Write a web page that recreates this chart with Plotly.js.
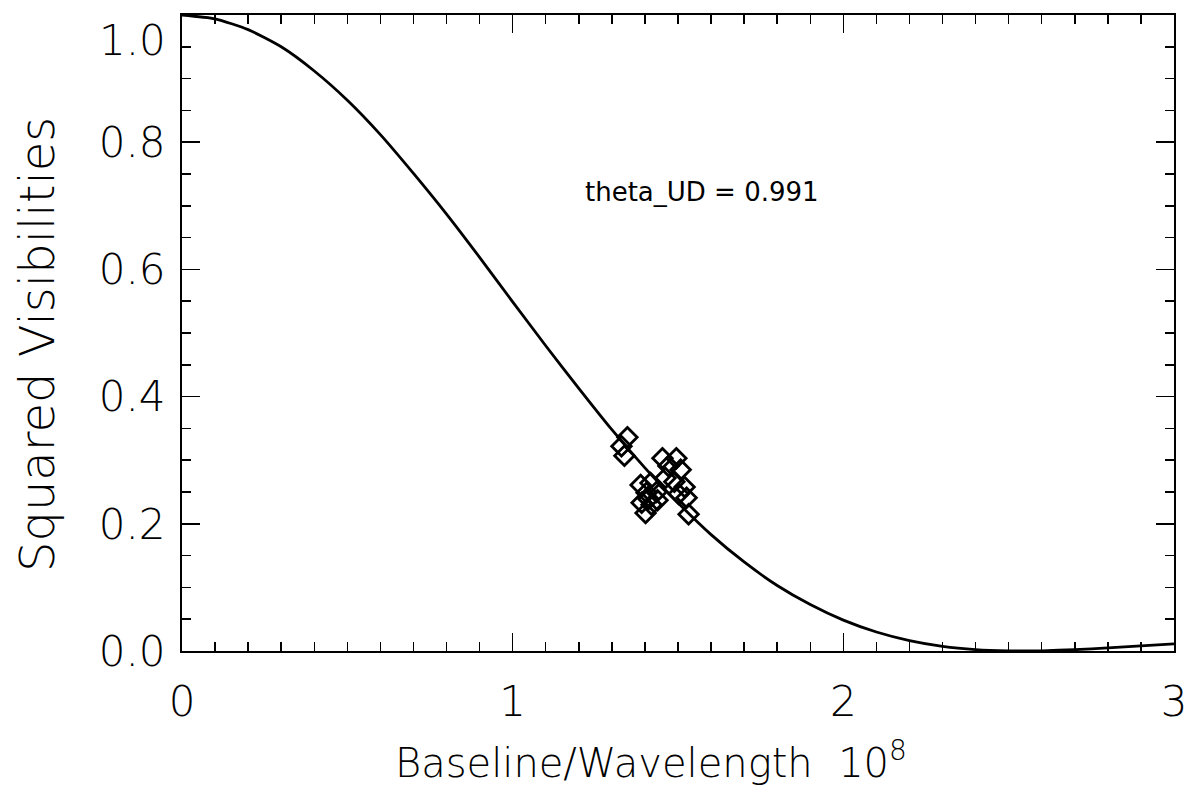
<!DOCTYPE html>
<html>
<head>
<meta charset="utf-8">
<script src="https://cdn.plot.ly/plotly-3.0.1.min.js"></script>
<style>
html, body { margin: 0; padding: 0; background: #fff; }
#chart { width: 1188px; height: 792px; }
</style>
</head>
<body>
<div id="chart"></div>
<script>
// Model curve (uniform disk fit)
const curveX = [0.0, 0.1, 0.2, 0.3, 0.4, 0.5, 0.6, 0.7, 0.8, 0.9,
                1.0, 1.1, 1.2, 1.3, 1.4, 1.5, 1.6, 1.7, 1.8, 1.9,
                2.0, 2.1, 2.2, 2.3, 2.4, 2.5, 2.55, 2.6, 2.7, 2.8, 2.9, 3.0];
const curveY = [1.000, 0.994, 0.977, 0.950, 0.912, 0.866, 0.812, 0.751, 0.687, 0.619,
                0.549, 0.480, 0.413, 0.348, 0.288, 0.233, 0.183, 0.140, 0.103, 0.073,
                0.0485, 0.0299, 0.0164, 0.0074, 0.0023, 0.0002, 0.0000, 0.0003, 0.0021, 0.0049, 0.0080, 0.0111];

// Measured squared visibilities
const obsX = [1.347, 1.329, 1.338,
              1.453, 1.495, 1.471, 1.508, 1.462, 1.489, 1.520, 1.502, 1.526, 1.532,
              1.387, 1.417, 1.405, 1.435, 1.390, 1.420, 1.402, 1.438, 1.411];
const obsY = [0.336, 0.322, 0.307,
              0.303, 0.303, 0.291, 0.285, 0.272, 0.266, 0.258, 0.247, 0.241, 0.215,
              0.261, 0.264, 0.249, 0.250, 0.233, 0.230, 0.217, 0.237, 0.239];

const fitLabel = "theta_UD = 0.991";
const xTitle = "Baseline/Wavelength  10<sup>8</sup>";
const yTitle = "Squared Visibilities";
const xTickVals = [0, 1, 2, 3];
const xTickText = ["0", "1", "2", "3"];
const yTickVals = [0.0, 0.2, 0.4, 0.6, 0.8];
const yTickText = ["0.0", "0.2", "0.4", "0.6", "0.8"];
const yTopLabel = "1.0";

const FONT = "'DejaVu Sans', 'Liberation Sans', sans-serif";
const THIN = 200;

const traces = [
  {
    x: curveX, y: curveY, type: 'scatter', mode: 'lines',
    line: {color: '#000', width: 2.8, shape: 'spline', smoothing: 0.6},
    hoverinfo: 'skip', showlegend: false
  },
  {
    x: obsX, y: obsY, type: 'scatter', mode: 'markers',
    marker: {symbol: 'diamond-open', size: 15, color: '#000', line: {color: '#000', width: 2.8}},
    showlegend: false
  }
];

const axisCommon = {
  showgrid: false, zeroline: false,
  showline: true, linecolor: '#000', linewidth: 2,
  mirror: 'allticks', ticks: 'inside', tickcolor: '#000', tickwidth: 1.5,
  ticklen: 18,
  tickfont: {family: FONT, size: 42, color: '#000', weight: THIN}
};

const layout = {
  width: 1188, height: 792,
  paper_bgcolor: '#fff', plot_bgcolor: '#fff',
  margin: {l: 182, r: 14, t: 15, b: 141},
  showlegend: false,
  xaxis: Object.assign({}, axisCommon, {
    range: [0, 3], tickmode: 'array', tickvals: xTickVals, ticktext: xTickText,
    ticklabelstandoff: 13,
    minor: {dtick: 0.1, ticks: 'inside', ticklen: 9, tickcolor: '#000', tickwidth: 1.5, showgrid: false}
  }),
  yaxis: Object.assign({}, axisCommon, {
    range: [0, 1], tickmode: 'array', tickvals: yTickVals, ticktext: yTickText,
    ticklabelstandoff: 6,
    minor: {dtick: 0.05, ticks: 'inside', ticklen: 9, tickcolor: '#000', tickwidth: 1.5, showgrid: false}
  }),
  annotations: [
    {xref: 'x', yref: 'y', x: 1.574, y: 0.722, text: fitLabel, showarrow: false,
     font: {family: FONT, size: 26, color: '#000'}},
    {xref: 'paper', yref: 'y', x: (167 - 182) / 992, y: 1.0, xanchor: 'right', yanchor: 'top',
     text: yTopLabel, showarrow: false, borderpad: 0,
     font: {family: FONT, size: 42, color: '#000', weight: THIN}},
    {xref: 'paper', yref: 'paper', x: (393 - 182) / 992, y: -0.172, xanchor: 'left', yanchor: 'middle',
     text: xTitle, showarrow: false,
     font: {family: FONT, size: 40, color: '#000', weight: THIN}},
    {xref: 'paper', yref: 'paper', x: (37 - 182) / 992, y: (651 - 345) / 636, xanchor: 'center', yanchor: 'middle',
     text: yTitle, showarrow: false, textangle: -90,
     font: {family: FONT, size: 48, color: '#000', weight: THIN}}
  ]
};

Plotly.newPlot('chart', traces, layout, {displayModeBar: false, staticPlot: true});
</script>
</body>
</html>
